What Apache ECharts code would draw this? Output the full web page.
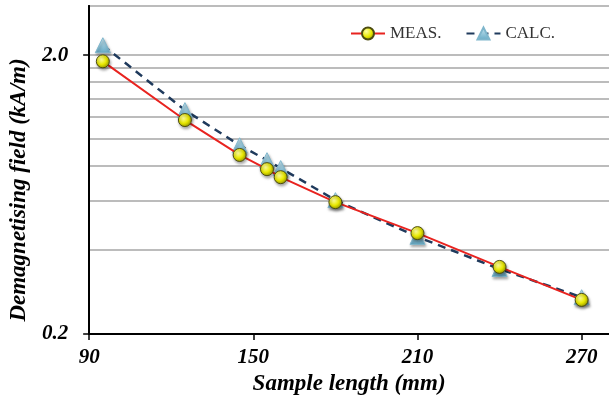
<!DOCTYPE html>
<html lang="en">
  <head>
    <meta charset="UTF-8" />
    <title>Demagnetising field vs sample length</title>
    <script src="https://cdn.jsdelivr.net/npm/echarts@6/dist/echarts.min.js"></script>
    <style>
      html, body { margin: 0; padding: 0; background: #fff; }
      #chart { width: 609px; height: 403px; }
    </style>
  </head>
  <body>
    <div id="chart"></div>
    <script>
      // data
      const lengths = [95, 125, 145, 155, 160, 180, 210, 240, 270];
      const measured = [1.9, 1.17, 0.877, 0.78, 0.73, 0.594, 0.46, 0.348, 0.265];
      const calculated = [2.17, 1.27, 0.95, 0.84, 0.787, 0.604, 0.446, 0.342, 0.271];
      const xTicks = [90, 150, 210, 270];
      const yTicks = [0.2, 2.0];
      const yGrid = [0.2, 0.4, 0.6, 0.8, 1.0, 1.2, 1.4, 1.6, 1.8, 2.0, 3.0];

      const serif = "Liberation Serif";
      const tickFont = { fontFamily: serif, fontSize: 21, fontWeight: "bold", fontStyle: "italic", color: "#000" };
      const titleFont = { fontFamily: serif, fontSize: 23, fontWeight: "bold", fontStyle: "italic", color: "#000" };

      const pairs = (xs, ys) => xs.map((x, i) => [x, ys[i]]);

      const yellowBall = {
        type: "radial", x: 0.38, y: 0.35, r: 0.7,
        colorStops: [
          { offset: 0, color: "#ffffa0" },
          { offset: 0.55, color: "#e8e800" },
          { offset: 1, color: "#8c8c00" },
        ],
      };
      const blueTri = {
        type: "linear", x: 0, y: 0, x2: 0, y2: 1,
        colorStops: [
          { offset: 0, color: "#cfeaf4" },
          { offset: 1, color: "#62a8c4" },
        ],
      };

      const chart = echarts.init(document.getElementById("chart"));
      chart.setOption({
        animation: false,
        grid: { left: 88, right: 0, top: 6, bottom: 69 },
        legend: {
          left: 345, top: 20,
          itemWidth: 34, itemHeight: 15, itemGap: 24,
          backgroundColor: "#fff",
          textStyle: { fontFamily: serif, fontSize: 17, color: "#333" },
          data: ["MEAS.", "CALC."],
        },
        xAxis: {
          type: "value", min: 90, max: 280,
          name: "Sample length (mm)",
          nameLocation: "middle", nameGap: 38,
          nameTextStyle: titleFont,
          axisLine: { lineStyle: { color: "#000", width: 2 } },
          axisTick: { customValues: xTicks, length: 6, lineStyle: { color: "#000", width: 1.5 } },
          axisLabel: { customValues: xTicks, margin: 13, ...tickFont },
          splitLine: { show: false },
        },
        yAxis: [
          {
            type: "log", logBase: 10, min: 0.2, max: 3,
            axisLine: { show: true, lineStyle: { color: "#000", width: 2 } },
            axisTick: { show: false, customValues: yGrid },
            axisLabel: { show: false },
            splitLine: { show: true, lineStyle: { color: "#a6a6a6", width: 1.5 } },
          },
          {
            type: "log", logBase: 10, min: 0.2, max: 3,
            position: "left",
            name: "Demagnetising field (kA/m)",
            nameLocation: "middle", nameGap: 57, nameRotate: 90,
            nameTextStyle: { ...titleFont, padding: [0, 40, 0, 0] },
            axisLine: { show: true, lineStyle: { color: "#000", width: 2 } },
            axisTick: { customValues: yTicks, length: 6, lineStyle: { color: "#000", width: 1.5 } },
            axisLabel: { customValues: yTicks, margin: 21, formatter: (v) => v.toFixed(1), ...tickFont },
            splitLine: { show: false },
          },
        ],
        series: [
          {
            name: "CALC.",
            type: "line",
            data: pairs(lengths, calculated),
            symbol: "triangle", symbolSize: 15,
            lineStyle: { color: "#1f3a5c", width: 2.5, type: [8, 6] },
            itemStyle: {
              color: blueTri, borderColor: "#7fb6cc", borderWidth: 1,
              shadowBlur: 3, shadowColor: "rgba(0,0,0,0.35)", shadowOffsetX: 1, shadowOffsetY: 2,
            },
            z: 2,
          },
          {
            name: "MEAS.",
            type: "line",
            data: pairs(lengths, measured),
            symbol: "circle", symbolSize: 13,
            lineStyle: { color: "#e8231f", width: 2 },
            itemStyle: {
              color: yellowBall, borderColor: "#4d4d10", borderWidth: 1,
              shadowBlur: 3, shadowColor: "rgba(0,0,0,0.35)", shadowOffsetX: 1, shadowOffsetY: 2,
            },
            z: 3,
          },
        ],
      });
    </script>
  </body>
</html>
